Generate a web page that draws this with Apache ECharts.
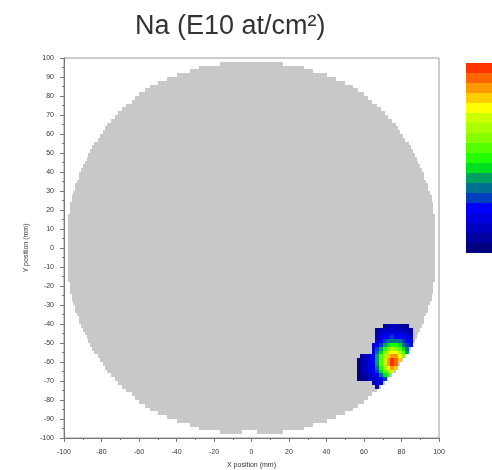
<!DOCTYPE html>
<html>
<head>
<meta charset="utf-8">
<script src="https://cdn.jsdelivr.net/npm/echarts@6/dist/echarts.min.js"></script>
<style>
  html, body { margin: 0; padding: 0; background: #fff; }
  #chart { width: 492px; height: 470px; }
</style>
</head>
<body>
<div id="chart"></div>
<script>
// wafer outline: half width (mm) of each 2 mm row, from the centre line outwards
const diskHalfWidth = [98, 98, 98, 98, 98, 98, 98, 98, 98, 97, 97, 97, 96, 96, 95, 94, 94, 93, 92, 92,
  91, 90, 89, 88, 87, 86, 85, 84, 82, 81, 79, 78, 77, 75, 73, 71, 69, 67, 64, 62,
  60, 57, 54, 50, 45, 40, 33, 28, 17]
const notchX = [-5, 3]

// colour scale, lowest level first
const levelColors = ['#000080', '#0000a0', '#0000c0', '#0000e0', '#0000ff', '#0040c0', '#007090',
  '#00a060', '#00e020', '#22ff00', '#55ff00', '#88ff00', '#aaff00', '#ccff00', '#ffff00',
  '#ffcc00', '#ff9900', '#ff6600', '#ff3300']

// Na contamination spot, 2 mm cells: row centre y, first cell centre x, levels
const blobRowY = [-41, -43, -45, -47, -49, -51, -53, -55, -57, -59, -61, -63, -65, -67, -69, -71, -73]
const blobRowStartX = [71, 67, 67, 67, 67, 65, 65, 65, 59, 57, 57, 57, 57, 57, 57, 65, 67]
const blobLevels = [
  [1, 1, 2, 2, 1, 1, 1],
  [1, 2, 2, 2, 2, 2, 2, 2, 1, 1],
  [2, 2, 3, 3, 3, 3, 3, 3, 2, 2],
  [2, 3, 4, 4, 5, 4, 4, 4, 3, 2],
  [3, 4, 5, 6, 6, 6, 6, 5, 4, 3],
  [3, 4, 5, 7, 8, 9, 9, 8, 6, 5, 4],
  [3, 5, 7, 9, 11, 12, 11, 10, 8, 6],
  [4, 6, 8, 11, 13, 14, 14, 12, 10, 7],
  [1, 2, 3, 4, 7, 10, 12, 15, 16, 16, 14, 11],
  [0, 1, 2, 3, 4, 7, 10, 13, 16, 18, 17, 15],
  [0, 1, 2, 3, 4, 7, 10, 13, 16, 18, 17],
  [0, 1, 2, 3, 4, 6, 9, 12, 14, 16, 15],
  [0, 1, 2, 3, 4, 5, 8, 10, 12, 13],
  [0, 1, 1, 2, 3, 4, 6, 8, 9],
  [0, 0, 1, 2, 2, 3, 4, 5],
  [2, 2, 3],
  [2],
]

// wafer rows -> [xLeft, xRight, yLow, yHigh]
const diskRows = []
diskHalfWidth.forEach((hw, k) => {
  diskRows.push([-hw, hw, 2 * k, 2 * k + 2])
  if (k === diskHalfWidth.length - 1) {
    diskRows.push([-hw, notchX[0], -2 * k - 2, -2 * k])
    diskRows.push([notchX[1], hw, -2 * k - 2, -2 * k])
  } else {
    diskRows.push([-hw, hw, -2 * k - 2, -2 * k])
  }
})

const blobCells = []
blobLevels.forEach((row, r) => {
  row.forEach((v, i) => {
    blobCells.push([blobRowStartX[r] + 2 * i, blobRowY[r], v])
  })
})

const myChart = echarts.init(document.getElementById('chart'))

myChart.setOption({
  animation: false,
  title: {
    text: 'Na (E10 at/cm²)',
    left: 130,
    top: 8,
    textStyle: {
      fontFamily: 'Liberation Sans',
      fontSize: 27,
      fontWeight: 'normal',
      color: '#333',
    },
  },
  grid: {
    left: 64,
    right: 53,
    top: 58,
    bottom: 32,
    outerBoundsMode: 'none',
    show: true,
    borderColor: '#999',
    borderWidth: 1,
  },
  visualMap: {
    type: 'piecewise',
    seriesIndex: 1,
    dimension: 2,
    pieces: levelColors.map((c, i) => ({ gte: i, lt: i + 1, color: c })),
    left: 451,
    top: 48,
    itemWidth: 26,
    itemHeight: 10,
    itemGap: 0,
    itemSymbol: 'rect',
    showLabel: false,
    selectedMode: false,
    hoverLink: false,
    textStyle: { fontSize: 0 },
  },
  xAxis: {
    type: 'value',
    min: -100,
    max: 100,
    interval: 20,
    name: 'X position (mm)',
    nameLocation: 'middle',
    nameGap: 24,
    nameTextStyle: { fontFamily: 'Liberation Sans', fontSize: 7, color: '#333' },
    axisLine: { onZero: false, lineStyle: { color: '#777' } },
    axisTick: { length: 4, lineStyle: { color: '#777' } },
    minorTick: { show: true, splitNumber: 2, length: 2, lineStyle: { color: '#777' } },
    axisLabel: { fontFamily: 'Liberation Sans', fontSize: 7, color: '#333', margin: 11 },
    splitLine: { show: false },
  },
  yAxis: {
    type: 'value',
    min: -100,
    max: 100,
    interval: 10,
    name: 'Y position (mm)',
    nameLocation: 'middle',
    nameGap: 33,
    nameTextStyle: { fontFamily: 'Liberation Sans', fontSize: 7, color: '#333' },
    axisLine: { onZero: false, lineStyle: { color: '#777' } },
    axisTick: { length: 4, lineStyle: { color: '#777' } },
    minorTick: { show: true, splitNumber: 2, length: 2, lineStyle: { color: '#777' } },
    axisLabel: { fontFamily: 'Liberation Sans', fontSize: 7, color: '#333', margin: 10 },
    splitLine: { show: false },
  },
  series: [
    {
      type: 'custom',
      silent: true,
      clip: true,
      encode: { x: [0, 1], y: [2, 3] },
      data: diskRows,
      renderItem: (params, api) => {
        const p0 = api.coord([api.value(0), api.value(3)])
        const p1 = api.coord([api.value(1), api.value(2)])
        const x = Math.round(p0[0])
        const y = Math.round(p0[1])
        return {
          type: 'rect',
          shape: { x: x, y: y, width: Math.round(p1[0]) - x, height: Math.round(p1[1]) - y },
          style: { fill: '#c8c8c8' },
        }
      },
    },
    {
      type: 'custom',
      silent: true,
      clip: true,
      encode: { x: 0, y: 1 },
      data: blobCells,
      renderItem: (params, api) => {
        const p0 = api.coord([api.value(0) - 1, api.value(1) + 1])
        const p1 = api.coord([api.value(0) + 1, api.value(1) - 1])
        const x = Math.round(p0[0])
        const y = Math.round(p0[1])
        return {
          type: 'rect',
          shape: { x: x, y: y, width: Math.round(p1[0]) - x, height: Math.round(p1[1]) - y },
          style: { fill: api.visual('color') },
        }
      },
    },
  ],
})
</script>
</body>
</html>
